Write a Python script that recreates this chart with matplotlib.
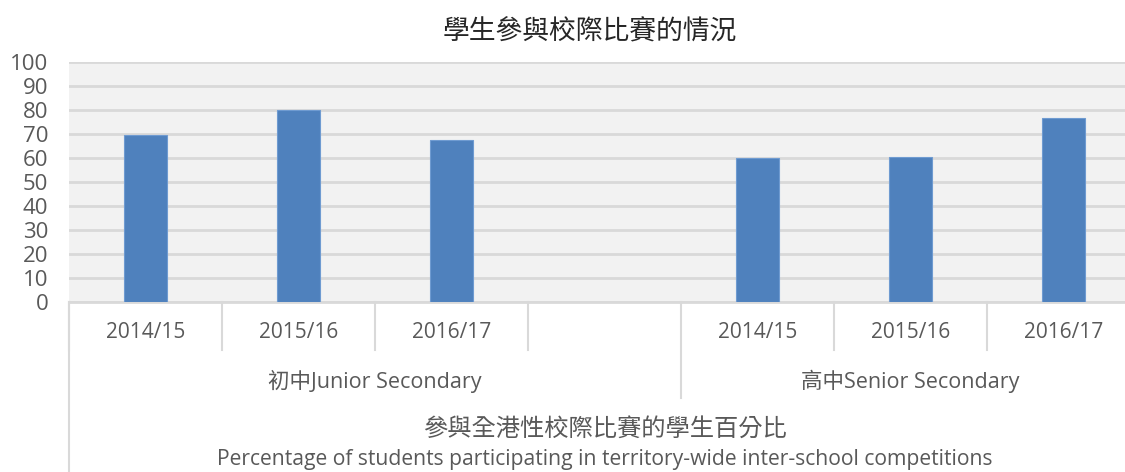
import numpy as np
import matplotlib.pyplot as plt
import matplotlib.transforms as mtransforms

plt.rcParams['font.family'] = ['Open Sans', 'Noto Sans CJK TC', 'DejaVu Sans']

years = ['2014/15', '2015/16', '2016/17']
groups = ['初中Junior Secondary', '高中Senior Secondary']
junior = [69.5, 80.0, 67.3]
senior = [59.8, 60.5, 76.8]
title = '學生參與校際比賽的情況'
xtitle_zh = '參與全港性校際比賽的學生百分比'
xtitle_en = 'Percentage of students participating in territory-wide inter-school competitions'

W, H = 1125, 472
fig = plt.figure(figsize=(W / 100, H / 100), dpi=100)
ax = fig.add_axes([69 / W, 170 / H, (1140 - 69) / W, 240 / H])

# slots: 3 junior, one empty, 3 senior
pos = [0, 1, 2, 4, 5, 6]
vals = junior + senior
ax.bar(pos, vals, width=0.275, color='#4F81BD', edgecolor='#6F9BD1', linewidth=0.8, zorder=3)

ax.set_facecolor('#F2F2F2')
ax.set_xlim(-0.5, 6.5)
ax.set_ylim(0, 100)
ax.set_yticks(np.arange(0, 101, 10))
ax.grid(axis='y', color='#D9D9D9', linewidth=2, zorder=1)
ax.set_xticks([])
for s in ['left', 'right', 'top']:
    ax.spines[s].set_visible(False)
ax.spines['bottom'].set_color('#D9D9D9')
ax.spines['bottom'].set_linewidth(2)
ax.tick_params(axis='y', length=0, pad=15, labelsize=16, labelcolor='#595959')

tr = mtransforms.blended_transform_factory(ax.transData, fig.transFigure)
gray = '#595959'
line_c = '#D9D9D9'
y_axis = 170 / H

# category dividers
for x in [-0.5, 0.5, 1.5, 2.5, 4.5, 5.5]:
    ax.plot([x, x], [y_axis, 122 / H], transform=tr, color=line_c, lw=1.5, clip_on=False)
ax.plot([3.5, 3.5], [y_axis, 74 / H], transform=tr, color=line_c, lw=1.5, clip_on=False)
ax.plot([-0.5, -0.5], [y_axis, 0], transform=tr, color=line_c, lw=1.5, clip_on=False)

for p, lab in zip(pos, years + years):
    ax.text(p, 139 / H, lab, transform=tr, ha='center', va='center', fontsize=15, color=gray)
ax.text(1.5, 91 / H, groups[0], transform=tr, ha='center', va='center', fontsize=15.5, color=gray)
ax.text(5.0, 91 / H, groups[1], transform=tr, ha='center', va='center', fontsize=15.5, color=gray)

ax.text(3.0, 42 / H, xtitle_zh, transform=tr, ha='center', va='center', fontsize=17.5, color=gray)
ax.text(3.0, 12 / H, xtitle_en, transform=tr, ha='center', va='center', fontsize=15.2, color=gray)

fig.text(590 / W, 440 / H, title, ha='center', va='center', fontsize=19.3, color='#262626')

plt.savefig('out.png', dpi=100)
